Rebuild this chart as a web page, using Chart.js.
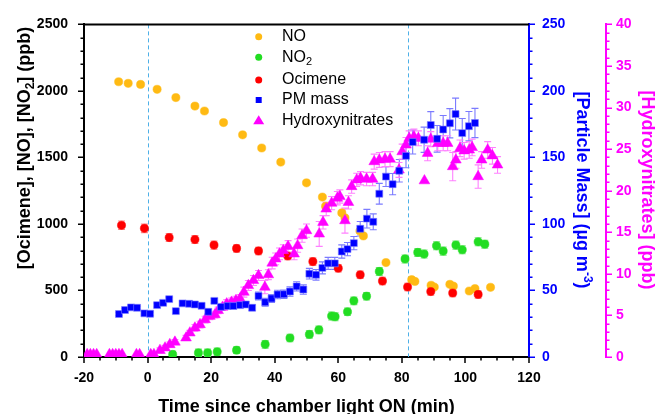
<!DOCTYPE html>
<html><head><meta charset="utf-8">
<script src="https://cdn.jsdelivr.net/npm/chart.js@4/dist/chart.umd.min.js"></script>
<style>html,body{margin:0;padding:0;background:#fff}</style>
</head><body>
<canvas id="c" width="655" height="414"></canvas>
<script>
// ---------------- DATA ----------------
const noTime = [-9.1,-6.1,-2.2,3.0,8.9,14.9,17.9,23.9,29.9,35.9,41.9,50.0,55.0,56.0,61.1,62.1,66.8,67.9,75.0,83.1,84.1,89.2,90.2,95.1,96.2,101.2,103.0,107.9];
const noPpb  = [2069,2057,2049,2012,1950,1886,1849,1762,1670,1571,1465,1309,1202,1133,1083,1046,947,910,710,581,568,539,526,546,533,496,514,524];

const no2Time = [7.9,16.0,18.9,21.9,28.0,37.0,44.8,50.9,53.9,57.9,59.0,62.9,64.9,68.9,72.9,81.0,85.0,87.0,90.9,93.0,97.0,99.0,104.0,106.1];
const no2Ppb  = [19,31,31,39,51,95,143,170,204,308,303,340,422,457,643,737,786,774,836,796,841,806,866,848];
const no2Err  = [25,28,28,28,25,28,28,28,28,30,30,28,28,28,30,30,30,30,30,30,30,30,30,30];

const ocTime = [-8.2,-1.0,6.8,14.9,20.9,28.0,34.9,44.1,52.0,60.0,66.9,73.9,81.8,89.1,96.0,104.0];
const ocPpb  = [990,967,898,883,841,816,797,759,717,667,618,571,526,492,481,470];
const ocErr  = [32,32,30,30,30,28,28,28,28,28,28,28,28,28,28,28];

const pmTime = [-9.0,-7.1,-5.2,-3.3,-1.0,0.8,3.0,4.9,6.8,8.9,11.0,13.1,14.9,17.0,19.1,21.0,23.1,25.2,27.0,29.1,30.9,32.9,34.9,37.0,39.0,40.9,42.9,44.8,46.9,49.0,50.9,53.0,55.0,56.8,58.9,61.1,62.9,64.9,66.9,69.0,71.0,72.9,75.0,77.1,79.2,81.3,83.4,87.0,89.1,91.1,93.0,95.1,96.9,99.0,101.1,103.0];
const pmMass = [32.3,35.3,37.3,37.0,32.8,32.5,39.0,40.7,43.5,34.5,40.3,40.0,39.5,38.5,34.0,42.2,37.7,38.3,38.3,39.0,39.5,37.0,45.9,41.2,44.0,47.0,47.2,49.2,53.1,50.7,62.6,61.8,67.0,70.4,70.4,79.3,81.1,85.6,96.4,104.0,101.6,122.7,135.6,129.9,140.0,151.2,161.6,163.3,174.4,164.0,171.0,175.7,182.6,168.3,173.5,175.9];
const pmErr  = [1.2,1.2,1.2,1.2,1.2,1.2,1.5,1.5,1.5,1.5,1.5,1.5,1.5,1.5,1.5,1.8,1.8,1.8,1.8,2.0,2.0,2.0,3.0,3.0,3.0,3.2,3.2,3.5,3.5,3.5,4.0,4.0,4.5,4.5,4.5,5.0,5.0,5.0,5.5,7.0,6.0,7.8,7.4,8.0,8.5,9.0,9.0,9.5,10.0,10.0,10.5,11.0,12.0,11.0,11.0,11.0];

const hnTime = [-19,-18,-17,-16,-12,-11,-10,-9,-8,-3.5,-2.5,1,2,
  3.9,5.5,7.0,8.6,12.1,13.3,14.9,16.5,18.1,19.6,21.2,22.2,23.6,24.9,26.4,27.8,
  29.1,30.3,31.7,33.3,34.9,36.9,38.0,39.2,40.3,41.5,42.7,44.2,46.1,47.2,48.6,50.0,
  54.0,55.2,56.2,57.9,59.7,60.5,62.1,63.2,64.2,65.8,67.0,68.9,70.8,71.3,72.9,74.7,76.3,
  79.1,80.1,81.3,82.3,83.8,85.2,87.1,88.1,89.1,91.3,93.0,94.4,96.0,97.0,98.3,99.6,101.2,102.1,
  104.0,105.1,107.0,108.5,110.1];
const hnPpb = [0.3,0.3,0.3,0.3,0.3,0.3,0.3,0.3,0.3,0.3,0.3,0.3,0.3,
  0.8,1.1,1.5,1.8,2.3,2.9,3.5,3.9,4.5,4.9,5.1,5.6,6.0,6.4,6.6,6.8,
  7.0,7.8,8.6,9.2,9.8,8.4,9.9,11.3,11.8,12.4,12.8,13.3,12.4,13.4,14.6,15.2,
  14.8,16.2,17.8,18.5,19.1,19.3,16.4,18.6,20.5,21.3,21.5,21.4,21.4,23.5,23.7,23.8,23.8,
  22.5,24.7,25.5,26.3,26.5,26.3,21.2,24.5,26.2,25.7,25.7,25.7,22.9,23.7,25.1,24.8,24.9,25.2,
  21.7,23.7,24.9,24.2,23.1];
const hnErr = [0,0,0,0,0,0,0,0,0,0,0,0,0,
  0.3,0.3,0.3,0.3,0.3,0.3,0.4,0.4,0.4,0.4,0.4,0.4,0.4,0.5,0.5,0.5,
  0.5,0.6,0.6,0.6,0.6,0.8,0.6,0.7,0.7,0.7,0.7,0.7,0.7,0.8,0.8,0.8,
  1.5,0.8,0.8,0.8,0.8,0.8,1.5,0.8,0.8,0.8,0.8,0.8,0.8,0.9,0.9,0.9,0.9,
  0.9,0.9,0.9,0.9,0.9,0.9,0,0.9,0.9,0.9,0.9,0.9,1.7,1.0,1.0,1.0,1.0,1.0,
  1.4,1.0,1.0,1.0,1.0];

const lightOnTimes = [0, 82];
const xTicks  = [-20,0,20,40,60,80,100,120];
const yTicks  = [0,500,1000,1500,2000,2500];
const pmTicks = [0,50,100,150,200,250];
const hnTicks = [0,5,10,15,20,25,30,35,40];

// ---------------- CHART ----------------
const C = {no:'#FFBA13', no2:'#22DD22', oc:'#FF0000', pm:'#0000FF', hn:'#FF00FF'};
const pts = (xs, ys) => xs.map((x,i)=>({x, y: ys[i]}));
const FONT = '"Liberation Sans", Arial, sans-serif';

function setTicks(arr){ return function(s){ s.ticks = arr.map(v=>({value:v})); }; }

const decor = {
  id: 'decor',
  beforeDatasetsDraw(chart){
    const {ctx, chartArea:a, scales} = chart;
    ctx.save();
    ctx.beginPath(); ctx.rect(a.left, a.top, a.right-a.left, a.bottom-a.top); ctx.clip();
    ctx.strokeStyle = '#4DB0E8'; ctx.lineWidth = 1; ctx.setLineDash([4,3]);
    lightOnTimes.forEach(t=>{
      const px = Math.round(scales.x.getPixelForValue(t)) + 0.5;
      ctx.beginPath(); ctx.moveTo(px, a.top); ctx.lineTo(px, a.bottom); ctx.stroke();
    });
    ctx.setLineDash([]);
    chart.data.datasets.forEach(ds=>{
      if(!ds.err) return;
      const ys = scales[ds.yAxisID];
      ctx.strokeStyle = ds.errColor; ctx.lineWidth = 1.1;
      ds.data.forEach((p,i)=>{
        const e = ds.err[i]; if(!e) return;
        const px = scales.x.getPixelForValue(p.x);
        const y1 = ys.getPixelForValue(p.y+e), y2 = ys.getPixelForValue(p.y-e);
        ctx.beginPath();
        ctx.moveTo(px, y1); ctx.lineTo(px, y2);
        ctx.moveTo(px-3.5, y1); ctx.lineTo(px+3.5, y1);
        ctx.moveTo(px-3.5, y2); ctx.lineTo(px+3.5, y2);
        ctx.stroke();
      });
    });
    ctx.restore();
  },
  afterDraw(chart){
    const {ctx, chartArea:a, scales} = chart;
    ctx.save();
    // top frame
    ctx.strokeStyle = '#000'; ctx.lineWidth = 2;
    ctx.beginPath(); ctx.moveTo(a.left-1, a.top); ctx.lineTo(a.right, a.top); ctx.stroke();
    // ticks
    function vt(scale, x0, dir, max, major, minor, color){
      ctx.strokeStyle = color; ctx.lineWidth = 1.5;
      ctx.beginPath();
      for(let v=0; v<=max+1e-9; v+=minor){
        const isMaj = Math.abs(v/major - Math.round(v/major)) < 1e-6;
        const p = Math.round(scale.getPixelForValue(v)) + 0.25;
        ctx.moveTo(x0, p); ctx.lineTo(x0 + dir*(isMaj?6:3.5), p);
      }
      ctx.stroke();
    }
    vt(scales.y, a.left, -1, 2500, 500, 100, '#000');
    vt(scales.yPM, scales.yPM.left, 1, 250, 50, 10, C.pm);
    vt(scales.yHN, scales.yHN.left, 1, 40, 5, 1, C.hn);
    ctx.strokeStyle = '#000'; ctx.lineWidth = 1.5; ctx.beginPath();
    for(let v=-20; v<=120; v+=5){
      const isMaj = v % 20 === 0;
      const p = Math.round(scales.x.getPixelForValue(v));
      ctx.moveTo(p, a.bottom); ctx.lineTo(p, a.bottom + (isMaj?6:3.5));
    }
    ctx.stroke();

    // axis titles
    function segWidth(segs){ let w=0; segs.forEach(s=>{ctx.font=s.f; w+=ctx.measureText(s.t).width;}); return w; }
    function drawSegs(segs, x, y){ segs.forEach(s=>{ ctx.font=s.f; ctx.fillText(s.t, x, y + (s.dy||0)); x += ctx.measureText(s.t).width; }); }
    const B18 = 'bold 18px ' + FONT, B12 = 'bold 12px ' + FONT;
    ctx.textBaseline = 'alphabetic'; ctx.textAlign = 'left';
    // x title
    ctx.fillStyle = '#000';
    let segs = [{t:'Time since chamber light ON (min)', f:B18}];
    let w = segWidth(segs);
    drawSegs(segs, (a.left+a.right)/2 - w/2, 412);
    // left title
    segs = [{t:'[Ocimene], [NO], [NO', f:B18},{t:'2', f:B12, dy:4},{t:'] (ppb)', f:B18}];
    w = segWidth(segs);
    ctx.save(); ctx.translate(30, 148); ctx.rotate(-Math.PI/2);
    drawSegs(segs, -w/2, 0); ctx.restore();
    // PM title
    ctx.fillStyle = C.pm;
    segs = [{t:'[Particle Mass] (\u00B5g m', f:B18},{t:'-3', f:B12, dy:-7},{t:')', f:B18}];
    w = segWidth(segs);
    ctx.save(); ctx.translate(577, 190); ctx.rotate(Math.PI/2);
    drawSegs(segs, -w/2, 0); ctx.restore();
    // HN title
    ctx.fillStyle = C.hn;
    segs = [{t:'[Hydroxynitrates] (ppb)', f:B18}];
    w = segWidth(segs);
    ctx.save(); ctx.translate(642, 190); ctx.rotate(Math.PI/2);
    drawSegs(segs, -w/2, 0); ctx.restore();

    // legend
    const R16 = '16px ' + FONT, R11 = '11px ' + FONT;
    const mx = 258.7, tx = 282;
    const rows = [
      {y:36.7, c:C.no, s:'circle', segs:[{t:'NO', f:R16}]},
      {y:57.3, c:C.no2, s:'circle', segs:[{t:'NO', f:R16},{t:'2', f:R11, dy:5}]},
      {y:80, c:C.oc, s:'circle', segs:[{t:'Ocimene', f:R16}]},
      {y:100, c:C.pm, s:'rect', segs:[{t:'PM mass', f:R16}]},
      {y:120.7, c:C.hn, s:'triangle', segs:[{t:'Hydroxynitrates', f:R16}]}
    ];
    rows.forEach(r=>{
      ctx.fillStyle = r.c; ctx.beginPath();
      if(r.s==='circle'){ ctx.arc(mx, r.y, 3.5, 0, Math.PI*2); }
      else if(r.s==='rect'){ ctx.rect(mx-3, r.y-3, 6, 6); }
      else { ctx.moveTo(mx, r.y-5.5); ctx.lineTo(mx+5.5, r.y+3.5); ctx.lineTo(mx-5.5, r.y+3.5); ctx.closePath(); }
      ctx.fill();
      ctx.fillStyle = '#000'; ctx.textBaseline = 'middle';
      drawSegs(r.segs, tx, r.y);
    });
    ctx.restore();
  }
};

const tickFont = {family: FONT, size: 14, weight: 'bold'};

new Chart(document.getElementById('c'), {
  type: 'scatter',
  data: {
    datasets: [
      {label:'NO', data: pts(noTime, noPpb), yAxisID:'y', pointStyle:'circle', pointRadius:4.1, pointBackgroundColor:C.no, pointBorderColor:C.no, pointBorderWidth:0.5, order:5},
      {label:'NO2', data: pts(no2Time, no2Ppb), err: no2Err, errColor:'#7EE87E', yAxisID:'y', pointStyle:'circle', pointRadius:4.1, pointBackgroundColor:C.no2, pointBorderColor:C.no2, pointBorderWidth:0.5, order:4},
      {label:'Ocimene', data: pts(ocTime, ocPpb), err: ocErr, errColor:'#FF8C8C', yAxisID:'y', pointStyle:'circle', pointRadius:4.1, pointBackgroundColor:C.oc, pointBorderColor:C.oc, pointBorderWidth:0.5, order:3},
      {label:'PM mass', data: pts(pmTime, pmMass), err: pmErr, errColor:'#7B7BFF', yAxisID:'yPM', pointStyle:'rect', pointRadius:4.9, pointBackgroundColor:C.pm, pointBorderColor:'#8080FF', pointBorderWidth:0.6, order:1},
      {label:'Hydroxynitrates', data: pts(hnTime, hnPpb), err: hnErr, errColor:'#FF80FF', yAxisID:'yHN', pointStyle:'triangle', pointRadius:6.2, pointBackgroundColor:C.hn, pointBorderColor:C.hn, pointBorderWidth:0.5, order:2}
    ]
  },
  options: {
    responsive:false, animation:false, events:[],
    layout:{padding:{top:21, left:0, right:0, bottom:0}},
    plugins:{legend:{display:false}, tooltip:{enabled:false}},
    scales:{
      x:{type:'linear', position:'bottom', min:-20, max:120,
         afterBuildTicks:setTicks(xTicks), afterFit:s=>{s.height=57;},
         grid:{display:false, drawTicks:false}, border:{display:true, color:'#000', width:2},
         ticks:{font:tickFont, color:'#000', padding:13, maxRotation:0, autoSkip:false, callback:v=>String(v)}},
      y:{type:'linear', position:'left', min:0, max:2500,
         afterBuildTicks:setTicks(yTicks), afterFit:s=>{s.width=84;},
         grid:{display:false, drawTicks:false}, border:{display:true, color:'#000', width:2},
         ticks:{font:tickFont, color:'#000', padding:16, autoSkip:false, callback:v=>String(v)}},
      yPM:{type:'linear', position:'right', weight:1, min:0, max:250,
         afterBuildTicks:setTicks(pmTicks), afterFit:s=>{s.width=77;},
         grid:{display:false, drawTicks:false}, border:{display:true, color:C.pm, width:2},
         ticks:{font:tickFont, color:C.pm, padding:13, autoSkip:false, callback:v=>String(v)}},
      yHN:{type:'linear', position:'right', weight:2, min:0, max:40,
         afterBuildTicks:setTicks(hnTicks), afterFit:s=>{s.width=49;},
         grid:{display:false, drawTicks:false}, border:{display:true, color:C.hn, width:2},
         ticks:{font:tickFont, color:C.hn, padding:10, autoSkip:false, callback:v=>String(v)}}
    }
  },
  plugins:[decor]
});
</script>
</body></html>
